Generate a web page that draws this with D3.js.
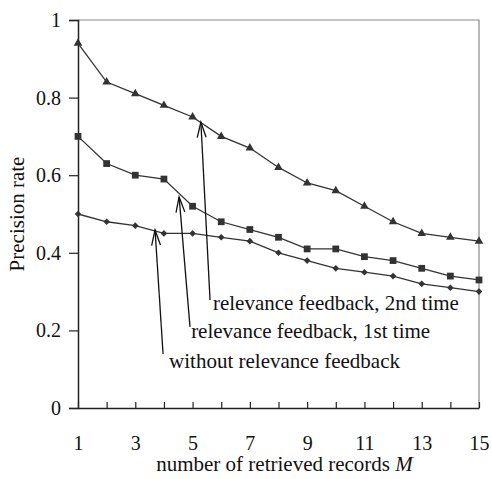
<!DOCTYPE html>
<html>
<head>
<meta charset="utf-8">
<script src="https://cdn.jsdelivr.net/npm/d3@7"></script>
<style>
  body { margin: 0; background: #fff; }
</style>
</head>
<body>
<div id="chart"></div>
<script>
// data
var records = d3.range(1, 16);
var secondTime = [0.94, 0.84, 0.81, 0.78, 0.75, 0.70, 0.67, 0.62, 0.58, 0.56, 0.52, 0.48, 0.45, 0.44, 0.43];
var firstTime = [0.70, 0.63, 0.60, 0.59, 0.52, 0.48, 0.46, 0.44, 0.41, 0.41, 0.39, 0.38, 0.36, 0.34, 0.33];
var withoutFb = [0.50, 0.48, 0.47, 0.45, 0.45, 0.44, 0.43, 0.40, 0.38, 0.36, 0.35, 0.34, 0.32, 0.31, 0.30];
var yTicks = [0, 0.2, 0.4, 0.6, 0.8, 1];
var xTickLabels = [1, 3, 5, 7, 9, 11, 13, 15];

// annotation arrows: tip, tail and label start, in data units
var notes = [
  { text: 'relevance feedback, 2nd time', tip: [5.29, 0.737], tail: [5.61, 0.278], label: [5.71, 0.253] },
  { text: 'relevance feedback, 1st time', tip: [4.53, 0.544], tail: [4.91, 0.209], label: [4.95, 0.180] },
  { text: 'without relevance feedback', tip: [3.69, 0.459], tail: [3.97, 0.139], label: [4.18, 0.103] }
];

var width = 492, height = 479;
var margin = { top: 20, right: 13, bottom: 71, left: 78 };
var font = '"Liberation Serif", "Times New Roman", serif';

var svg = d3.select('#chart').append('svg')
    .attr('width', width)
    .attr('height', height)
    .style('font-family', font);

var x = d3.scaleLinear().domain([1, 15]).range([margin.left, width - margin.right]);
var y = d3.scaleLinear().domain([0, 1]).range([height - margin.bottom, margin.top]);

// frame (top / right in grey)
svg.append('path')
    .attr('d', `M${x(1)},${y(1)}H${x(15)}V${y(0)}`)
    .attr('fill', 'none')
    .attr('stroke', '#8a8a8a')
    .attr('stroke-width', 1.2);

// y axis
var yAxis = svg.append('g')
    .attr('transform', `translate(${x(1)},0)`)
    .call(d3.axisLeft(y).tickValues(yTicks).tickSize(9).tickPadding(8)
      .tickFormat(d => d === 0 || d === 1 ? d3.format('d')(d) : d3.format('.1f')(d)));
yAxis.attr('font-family', null);
yAxis.select('.domain').attr('stroke', '#222').attr('stroke-width', 1.5);
yAxis.selectAll('.tick line').attr('stroke', '#222').attr('stroke-width', 1.2);
yAxis.selectAll('.tick text')
    .style('font-family', font).style('font-size', '20px').attr('fill', '#111');

// x axis: ticks inward, labels on odd values
var xAxis = svg.append('g')
    .attr('transform', `translate(0,${y(0)})`)
    .call(d3.axisBottom(x).tickValues(records).tickSizeInner(-6).tickSizeOuter(0).tickPadding(28)
      .tickFormat(d => xTickLabels.includes(d) ? d : ''));
xAxis.attr('font-family', null);
xAxis.select('.domain').attr('stroke', '#222').attr('stroke-width', 1.5);
xAxis.selectAll('.tick line').attr('stroke', '#222').attr('stroke-width', 1.2);
xAxis.selectAll('.tick text')
    .style('font-family', font).style('font-size', '20px').attr('fill', '#111');

// series
var line = d3.line().x((d, i) => x(records[i])).y(d => y(d));
var series = [
  { values: secondTime, symbol: d3.symbolTriangle, size: 32, rot: 0 },
  { values: firstTime, symbol: d3.symbolSquare, size: 46, rot: 0 },
  { values: withoutFb, symbol: d3.symbolSquare, size: 22, rot: 45 }
];

series.forEach(s => {
  svg.append('path')
      .datum(s.values)
      .attr('d', line)
      .attr('fill', 'none')
      .attr('stroke', '#333')
      .attr('stroke-width', 1.3);

  svg.selectAll(null)
      .data(s.values)
      .enter()
      .append('path')
      .attr('transform', (d, i) => `translate(${x(records[i])},${y(d)}) rotate(${s.rot})`)
      .attr('d', d3.symbol().type(s.symbol).size(s.size))
      .attr('fill', '#333');
});

// annotations
var g = svg.append('g').attr('stroke', '#111').attr('stroke-width', 1.3).attr('fill', 'none');
notes.forEach(n => {
  var x0 = x(n.tail[0]), y0 = y(n.tail[1]);
  var x1 = x(n.tip[0]), y1 = y(n.tip[1]);
  var ang = Math.atan2(y1 - y0, x1 - x0);
  var len = 16, spread = 0.28;
  g.append('line').attr('x1', x0).attr('y1', y0).attr('x2', x1).attr('y2', y1);
  g.append('path')
      .attr('d', `M${x1 - len * Math.cos(ang - spread)},${y1 - len * Math.sin(ang - spread)}` +
                 `L${x1},${y1}` +
                 `L${x1 - len * Math.cos(ang + spread)},${y1 - len * Math.sin(ang + spread)}`);
  svg.append('text')
      .attr('x', x(n.label[0]))
      .attr('y', y(n.label[1]))
      .style('font-size', '21px')
      .attr('fill', '#111')
      .text(n.text);
});

// axis titles
svg.append('text')
    .attr('x', (x(1) + x(15)) / 2 + 6)
    .attr('y', 471)
    .attr('text-anchor', 'middle')
    .style('font-size', '21px')
    .attr('fill', '#111')
    .call(t => {
      t.append('tspan').text('number of retrieved records ');
      t.append('tspan').style('font-style', 'italic').text('M');
    });

svg.append('text')
    .attr('transform', `translate(24,${(y(0) + y(1)) / 2}) rotate(-90)`)
    .attr('text-anchor', 'middle')
    .style('font-size', '21px')
    .attr('fill', '#111')
    .text('Precision rate');
</script>
</body>
</html>
